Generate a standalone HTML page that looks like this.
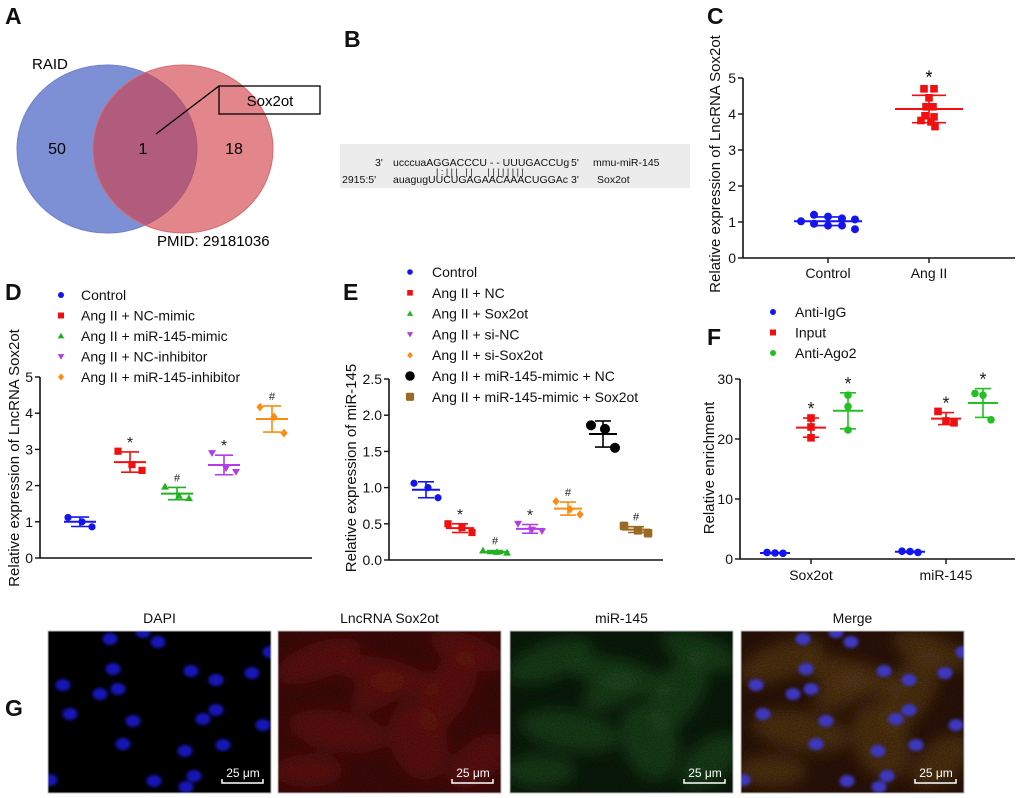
<!DOCTYPE html>
<html><head><meta charset="utf-8"><style>
html,body{margin:0;padding:0;background:#fff}
svg{display:block;font-family:"Liberation Sans",Arial,sans-serif}
</style></head><body>
<svg id="fig" width="1020" height="798" viewBox="0 0 1020 798" xmlns="http://www.w3.org/2000/svg">
<defs>
<filter id="blur2"><feGaussianBlur stdDeviation="1.5"/></filter>
<filter id="blur6"><feGaussianBlur stdDeviation="7"/></filter>
<filter id="noise" x="0" y="0" width="100%" height="100%"><feTurbulence type="fractalNoise" baseFrequency="0.8" numOctaves="2" seed="3"/><feColorMatrix values="0 0 0 0 0  0 0 0 0 0  0 0 0 0 0  0 0 0 -1.5 1.0"/></filter>
</defs>
<g font-weight="bold" font-size="23" fill="#111">
<text x="5" y="24">A</text>
<text x="344" y="47">B</text>
<text x="707" y="24">C</text>
<text x="5" y="300">D</text>
<text x="343" y="300">E</text>
<text x="707" y="345">F</text>
<text x="5" y="716">G</text>
</g>
<g>
<ellipse cx="107" cy="149" rx="90" ry="84" fill="#7d90d6" stroke="#6f82cc"/>
<ellipse cx="183" cy="149" rx="90" ry="84" fill="rgb(210,60,70)" fill-opacity="0.62" stroke="#d86a6a"/>
<text x="32" y="69" font-size="15">RAID</text>
<text x="157" y="246" font-size="15">PMID: 29181036</text>
<text x="57" y="154" font-size="16" text-anchor="middle">50</text>
<text x="143" y="154" font-size="16" text-anchor="middle">1</text>
<text x="234" y="154" font-size="16" text-anchor="middle">18</text>
<line x1="156" y1="134" x2="219" y2="86" stroke="#000" stroke-width="1.3"/>
<rect x="219" y="86" width="101" height="28" fill="none" stroke="#000" stroke-width="1.3"/>
<text x="270" y="106" font-size="15" text-anchor="middle">Sox2ot</text>
</g>
<g font-size="10.5" fill="#111">
<rect x="340" y="144" width="350" height="44" fill="#ececec"/>
<text x="375" y="166">3'</text>
<text x="393" y="166">ucccuaAGGACCCU - - UUUGACCUg</text>
<text x="571" y="166">5'</text>
<text x="593" y="166">mmu-miR-145</text>
<text x="436" y="175" font-size="9" xml:space="preserve">| : | | |   | |      | | | | | | | |</text>
<text x="342" y="183">2915:5'</text>
<text x="393" y="183">auagugUUCUGAGAACAAACUGGAc</text>
<text x="571" y="183">3'</text>
<text x="597" y="183">Sox2ot</text>
</g>
<g id="charts"></g>
<g id="micro"></g>
</svg>
<script>
// Panel C
const cCategories = ["Control", "Ang II"];
const cControl = [1.02, 1.2, 1.15, 1.1, 1.07, 0.95, 0.9, 0.9, 0.8];
const cAngII = [4.7, 4.7, 4.45, 4.2, 4.2, 3.95, 3.92, 3.82, 3.78, 3.65];
const cMeans = [1.02, 4.14];
const cSD = [0.12, 0.38];
const cTicks = [0, 1, 2, 3, 4, 5];
// Panel D
const dLegend = ["Control", "Ang II + NC-mimic", "Ang II + miR-145-mimic", "Ang II + NC-inhibitor", "Ang II + miR-145-inhibitor"];
const dPoints = [[1.12, 1.0, 0.86], [2.95, 2.58, 2.42], [1.97, 1.72, 1.65], [2.9, 2.48, 2.38], [4.17, 3.9, 3.45]];
const dMeans = [1.0, 2.65, 1.78, 2.57, 3.84];
const dSD = [0.13, 0.28, 0.17, 0.27, 0.36];
const dMarks = ["", "*", "#", "*", "#"];
const dTicks = [0, 1, 2, 3, 4, 5];
// Panel E
const eLegend = ["Control", "Ang II + NC", "Ang II + Sox2ot", "Ang II + si-NC", "Ang II + si-Sox2ot", "Ang II + miR-145-mimic + NC", "Ang II + miR-145-mimic + Sox2ot"];
const ePoints = [[1.06, 1.0, 0.86], [0.5, 0.45, 0.38], [0.13, 0.11, 0.1], [0.5, 0.42, 0.4], [0.81, 0.7, 0.63], [1.86, 1.81, 1.55], [0.47, 0.41, 0.37]];
const eMeans = [0.97, 0.44, 0.11, 0.43, 0.71, 1.74, 0.42];
const eSD = [0.11, 0.06, 0.02, 0.06, 0.09, 0.18, 0.04];
const eMarks = ["", "*", "#", "*", "#", "", "#"];
const eTicks = ["0.0", "0.5", "1.0", "1.5", "2.0", "2.5"];
// Panel F
const fCategories = ["Sox2ot", "miR-145"];
const fLegend = ["Anti-IgG", "Input", "Anti-Ago2"];
const fIgG = [[1.1, 1.0, 0.95], [1.3, 1.25, 1.1]];
const fInput = [[23.5, 22.0, 20.2], [24.6, 23.0, 22.7]];
const fAgo2 = [[27.3, 25.4, 21.5], [27.6, 27.3, 23.2]];
const fIgGMean = [1.0, 1.2];
const fIgGSD = [0.07, 0.1];
const fInputMean = [21.9, 23.4];
const fInputSD = [1.6, 1.0];
const fAgo2Mean = [24.7, 26.0];
const fAgo2SD = [3.0, 2.4];
const fTicks = [0, 10, 20, 30];

const NS = "http://www.w3.org/2000/svg";
const root = document.getElementById("charts");
function el(tag, attrs, parent) {
  const e = document.createElementNS(NS, tag);
  for (const k in attrs) e.setAttribute(k, attrs[k]);
  (parent || root).appendChild(e);
  return e;
}
function txt(s, attrs, parent) { const t = el("text", attrs, parent); t.textContent = s; return t; }
function marker(shape, x, y, color, size, parent) {
  const s = size;
  if (shape === "circle") return el("circle", {cx: x, cy: y, r: s, fill: color}, parent);
  if (shape === "bigcircle") return el("circle", {cx: x, cy: y, r: s * 1.4, fill: color}, parent);
  if (shape === "square") return el("rect", {x: x - s, y: y - s, width: 2 * s, height: 2 * s, fill: color}, parent);
  if (shape === "rsquare") return el("rect", {x: x - s * 1.2, y: y - s * 1.2, width: 2.4 * s, height: 2.4 * s, rx: 1.5, fill: color}, parent);
  if (shape === "up") return el("polygon", {points: `${x},${y - s * 1.1} ${x - s * 1.1},${y + s * 0.8} ${x + s * 1.1},${y + s * 0.8}`, fill: color}, parent);
  if (shape === "down") return el("polygon", {points: `${x},${y + s * 1.1} ${x - s * 1.1},${y - s * 0.8} ${x + s * 1.1},${y - s * 0.8}`, fill: color}, parent);
  return el("polygon", {points: `${x},${y - s * 1.2} ${x + s},${y} ${x},${y + s * 1.2} ${x - s},${y}`, fill: color}, parent);
}
function axes(g, x0, xEnd, yScale, ticks) {
  const yTop = yScale(+ticks[ticks.length - 1]), yBot = yScale(+ticks[0]);
  el("line", {x1: x0, y1: yTop, x2: x0, y2: yBot, stroke: "#111", "stroke-width": 1.6}, g);
  el("line", {x1: x0, y1: yBot, x2: xEnd, y2: yBot, stroke: "#111", "stroke-width": 1.6}, g);
  ticks.forEach(t => {
    const y = yScale(+t);
    el("line", {x1: x0 - 5, y1: y, x2: x0, y2: y, stroke: "#111", "stroke-width": 1.4}, g);
    const l = txt(String(t), {x: x0 - 7, y: y + 5, "font-size": 14, "text-anchor": "end", fill: "#111"}, g);
    
    
  });
}
function errbar(g, x, mean, sd, yScale, color, halfW, capW) {
  el("line", {x1: x - halfW, y1: yScale(mean), x2: x + halfW, y2: yScale(mean), stroke: color, "stroke-width": 2}, g);
  el("line", {x1: x, y1: yScale(mean + sd), x2: x, y2: yScale(mean - sd), stroke: color, "stroke-width": 1.6}, g);
  el("line", {x1: x - capW, y1: yScale(mean + sd), x2: x + capW, y2: yScale(mean + sd), stroke: color, "stroke-width": 1.6}, g);
  el("line", {x1: x - capW, y1: yScale(mean - sd), x2: x + capW, y2: yScale(mean - sd), stroke: color, "stroke-width": 1.6}, g);
}
function ylabel(g, s, x, y, size) {
  const t = txt(s, {x: 0, y: 0, transform: `translate(${x},${y}) rotate(-90)`, "font-size": size || 14, "text-anchor": "middle", fill: "#111"}, g);
  
  
}
const JIT3 = [-12, 2, 12];

(function () {
  const g = el("g", {});
  
  
  const y = v => 258 - v * 36;
  axes(g, 743, 1015, y, cTicks);
  const xs = [828, 929];
  cCategories.forEach((c, i) => {
    el("line", {x1: xs[i], y1: 258, x2: xs[i], y2: 263, stroke: "#111", "stroke-width": 1.4}, g);
    const t = txt(c, {x: xs[i], y: 278, "font-size": 14, "text-anchor": "middle", fill: "#111"}, g);
    
    
  });
  const jc = [-27, -14, 0, 14, 27, -14, 0, 14, 27];
  cControl.forEach((v, i) => {
    const m = marker("circle", xs[0] + jc[i], y(v), "#1414f0", 4, g);
    
    
  });
  const ja = [-5, 5, 0, -3, 4, -4, 5, -8, 2, 6];
  cAngII.forEach((v, i) => {
    const m = marker("square", xs[1] + ja[i], y(v), "#f01010", 3.8, g);
    
    
  });
  errbar(g, xs[0], cMeans[0], cSD[0], y, "#1414f0", 34, 17);
  errbar(g, xs[1], cMeans[1], cSD[1], y, "#f01010", 34, 17);
  const s = txt("*", {x: xs[1], y: y(cMeans[1] + cSD[1]) - 12, "font-size": 18, "text-anchor": "middle"}, g);
  
  
  ylabel(g, "Relative expression of LncRNA Sox2ot", 720, 164, 15);
})();

(function () {
  const g = el("g", {});
  
  
  const y = v => 558 - v * 36.2;
  axes(g, 40, 312, y, dTicks);
  const xs = [80, 130, 177, 224, 272];
  const colors = ["#1414f0", "#f01010", "#22b022", "#b23de8", "#ff8a10"];
  const shapes = ["circle", "square", "up", "down", "diamond"];
  dLegend.forEach((s, i) => {
    const ly = 295 + i * 20.5;
    const m = marker(shapes[i], 61, ly, colors[i], 3, g);
    
    
    const t = txt(s, {x: 81, y: ly + 5, "font-size": 14, fill: "#111"}, g);
    
    
  });
  dPoints.forEach((pts, i) => {
    pts.forEach((v, j) => {
      const m = marker(shapes[i], xs[i] + JIT3[j], y(v), colors[i], 3.6, g);
      
      
    });
    errbar(g, xs[i], dMeans[i], dSD[i], y, colors[i], 16, 9);
    if (dMarks[i]) {
      const t = txt(dMarks[i], {x: xs[i], y: y(dMeans[i] + dSD[i]) - (dMarks[i] === "*" ? 4 : 6), "font-size": dMarks[i] === "*" ? 16 : 11, "text-anchor": "middle", fill: "#222"}, g);
      
      
    }
  });
  ylabel(g, "Relative expression of LncRNA Sox2ot", 19, 458, 15);
})();

(function () {
  const g = el("g", {});
  
  
  const y = v => 560 - v * 72.4;
  axes(g, 389, 663, y, eTicks);
  const xs = [426, 460, 495, 530, 568, 603, 636];
  const colors = ["#1414f0", "#f01010", "#22b022", "#b23de8", "#ff8a10", "#000000", "#9a6a22"];
  const shapes = ["circle", "square", "up", "down", "diamond", "bigcircle", "rsquare"];
  eLegend.forEach((s, i) => {
    const ly = 272 + i * 20.8;
    const m = marker(shapes[i], 410, ly, colors[i], i >= 5 ? 3.4 : 2.8, g);
    
    
    const t = txt(s, {x: 432, y: ly + 5, "font-size": 14, fill: "#111"}, g);
    
    
  });
  ePoints.forEach((pts, i) => {
    pts.forEach((v, j) => {
      const m = marker(shapes[i], xs[i] + JIT3[j], y(v), colors[i], 3.6, g);
      
      
    });
    errbar(g, xs[i], eMeans[i], eSD[i], y, colors[i], 14, 8);
    if (eMarks[i]) {
      const t = txt(eMarks[i], {x: xs[i], y: y(eMeans[i] + eSD[i]) - (eMarks[i] === "*" ? 4 : 6), "font-size": eMarks[i] === "*" ? 16 : 11, "text-anchor": "middle", fill: "#222"}, g);
      
      
    }
  });
  ylabel(g, "Relative expression of miR-145", 356, 468, 15);
})();

(function () {
  const g = el("g", {});
  
  
  const y = v => 559 - v * 6;
  axes(g, 740, 1015, y, fTicks);
  const xs = [811, 946];
  fCategories.forEach((c, i) => {
    el("line", {x1: xs[i], y1: 559, x2: xs[i], y2: 564, stroke: "#111", "stroke-width": 1.4}, g);
    const t = txt(c, {x: xs[i], y: 580, "font-size": 14, "text-anchor": "middle", fill: "#111"}, g);
    
    
  });
  const colors = ["#1414f0", "#f01010", "#22c022"];
  const shapes = ["circle", "square", "circle"];
  fLegend.forEach((s, i) => {
    const ly = 312 + i * 20.5;
    const m = marker(shapes[i], 773, ly, colors[i], 3, g);
    
    
    const t = txt(s, {x: 795, y: ly + 5, "font-size": 14, fill: "#111"}, g);
    
    
  });
  const series = [[fIgG, fIgGMean, fIgGSD, -36], [fInput, fInputMean, fInputSD, 0], [fAgo2, fAgo2Mean, fAgo2SD, 37]];
  series.forEach((sr, si) => {
    const [pts, means, sds, off] = sr;
    fCategories.forEach((c, ci) => {
      const cx = xs[ci] + off;
      pts[ci].forEach((v, j) => {
        const jit = si === 0 ? [-8, 0, 8][j] : (ci === 0 ? 0 : [-8, 0, 8][j]);
        const m = marker(shapes[si], cx + jit, y(v), colors[si], 3.8, g);
        
        
      });
      errbar(g, cx, means[ci], sds[ci], y, colors[si], 15, 8);
      if (si > 0) {
        const t = txt("*", {x: cx, y: y(means[ci] + sds[ci]) - 3, "font-size": 18, "text-anchor": "middle", fill: "#222"}, g);
        
        
      }
    });
  });
  ylabel(g, "Relative enrichment", 714, 468, 15);
})();

(function () {
  const mg = document.getElementById("micro");
  const titles = ["DAPI", "LncRNA Sox2ot", "miR-145", "Merge"];
  const xs = [48, 278, 510, 741];
  const W = 223, H = 162, Y0 = 631;
  const nuclei = [[62,8],[110,11],[65,38],[143,40],[204,42],[15,54],[52,63],[70,58],[168,49],[22,83],[85,90],[155,88],[168,79],[215,94],[75,113],[137,120],[175,114],[106,150],[146,145],[138,156],[2,149],[95,1],[222,21]];
  const cells = [[40,30,45,18,-20],[110,45,55,16,15],[170,60,45,22,-60],[60,100,50,20,10],[140,110,40,28,70],[200,130,35,20,-40],[30,140,35,16,0],[100,60,30,16,-30],[190,20,40,16,20]];
  titles.forEach((t, i) => {
    const g = el("g", {}, mg);
    
    
    const tt = txt(t, {x: xs[i] + W / 2, y: 623, "font-size": 14, "text-anchor": "middle", fill: "#111"}, g);
    
    
    const clipId = "clip" + i;
    const cp = el("clipPath", {id: clipId}, g);
    el("rect", {x: xs[i], y: Y0, width: W, height: H}, cp);
    const inner = el("g", {"clip-path": `url(#${clipId})`}, g);
    el("rect", {x: xs[i], y: Y0, width: W, height: H, fill: i === 0 ? "#000" : (i === 1 ? "#3c0a08" : (i === 2 ? "#0a1a0a" : "#2a1208"))}, inner);
    if (i >= 1) {
      const col = i === 1 ? "#6a1410" : (i === 2 ? "#1c4a1c" : "#5a3a16");
      const cg = el("g", {filter: "url(#blur6)"}, inner);
      cells.forEach(c => el("ellipse", {cx: xs[i] + c[0], cy: Y0 + c[1], rx: c[2], ry: c[3], transform: `rotate(${c[4]} ${xs[i] + c[0]} ${Y0 + c[1]})`, fill: col, opacity: 0.7}, cg));
      el("rect", {x: xs[i], y: Y0, width: W, height: H, fill: "#000", filter: "url(#noise)", opacity: 0.45}, inner);
    }
    if (i === 0 || i === 3) {
      const ng = el("g", {filter: "url(#blur2)"}, inner);
      nuclei.forEach(n => el("ellipse", {cx: xs[i] + n[0], cy: Y0 + n[1], rx: 7.5, ry: 6, fill: i === 0 ? "#1616b8" : "#3c38c0"}, ng));
    }
    el("rect", {x: xs[i], y: Y0, width: W, height: H, fill: "none", stroke: "#bbb", "stroke-width": 1}, g);
    const bx = xs[i] + 174;
    const sb = el("path", {d: `M${bx} ${Y0 + 148} V${Y0 + 152} H${bx + 41} V${Y0 + 148}`, stroke: "#fff", "stroke-width": 1.5, fill: "none"}, g);
    
    
    const st = txt("25 μm", {x: bx + 21, y: Y0 + 146, "font-size": 12, "text-anchor": "middle", fill: "#fff"}, g);
    
    
  });
})();
</script>
</body></html>
